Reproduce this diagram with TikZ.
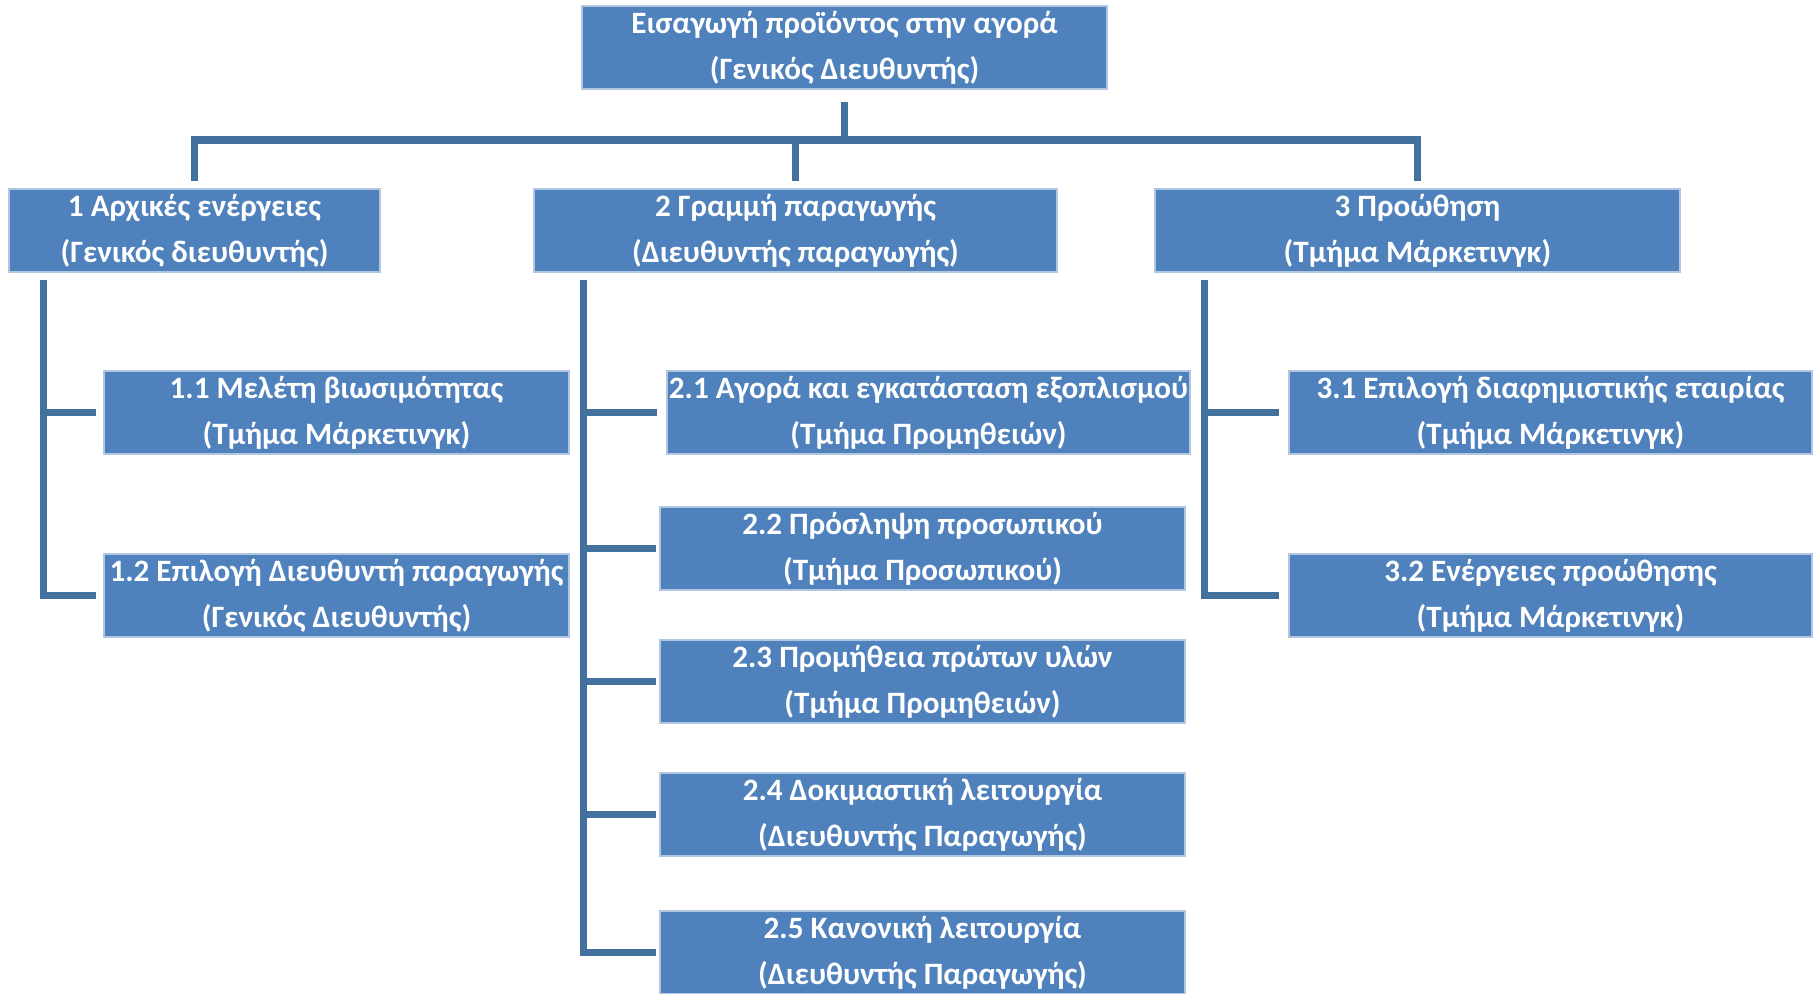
\documentclass[tikz,border=0pt]{standalone}
\usepackage{fontspec}
\setmainfont{Carlito}
\usetikzlibrary{positioning}
\definecolor{boxblue}{HTML}{4F81BD}
\definecolor{lineblue}{HTML}{41719C}
\tikzset{
    task/.style={draw=boxblue!45!white, line width=0.5pt, fill=boxblue,
        text=white, align=center, inner sep=0pt, minimum height=0.83cm,
        font=\bfseries\fontsize{8.85}{13}\selectfont},
    link/.style={draw=lineblue, line width=2pt},
}
\begin{document}
\begin{tikzpicture}
            \useasboundingbox (0,0) rectangle (18.17,-9.93);

            % Top task
            \node[task, minimum width=5.25cm] (top) at (8.445,-0.475)
                {Εισαγωγή προϊόντος στην αγορά\\(Γενικός Διευθυντής)};

            % Main phases
            \node[task, minimum width=3.71cm] (b1) at (1.945,-2.305)
                {1 Αρχικές ενέργειες\\(Γενικός διευθυντής)};
            \node[task, minimum width=5.23cm] (b2) at (7.955,-2.305)
                {2 Γραμμή παραγωγής\\(Διευθυντής παραγωγής)};
            \node[task, minimum width=5.25cm] (b3) at (14.175,-2.305)
                {3 Προώθηση\\(Τμήμα Μάρκετινγκ)};

            % Phase 1 tasks
            \node[task, minimum width=4.65cm] (c11) at (3.365,-4.125)
                {1.1 Μελέτη βιωσιμότητας\\(Τμήμα Μάρκετινγκ)};
            \node[task, minimum width=4.65cm] (c12) at (3.365,-5.955)
                {1.2 Επιλογή Διευθυντή παραγωγής\\(Γενικός Διευθυντής)};

            % Phase 2 tasks
            \node[task, minimum width=5.23cm] (c21) at (9.285,-4.125)
                {2.1 Αγορά και εγκατάσταση εξοπλισμού\\(Τμήμα Προμηθειών)};
            \node[task, minimum width=5.25cm] (c22) at (9.225,-5.485)
                {2.2 Πρόσληψη προσωπικού\\(Τμήμα Προσωπικού)};
            \node[task, minimum width=5.25cm] (c23) at (9.225,-6.815)
                {2.3 Προμήθεια πρώτων υλών\\(Τμήμα Προμηθειών)};
            \node[task, minimum width=5.25cm] (c24) at (9.225,-8.145)
                {2.4 Δοκιμαστική λειτουργία\\(Διευθυντής Παραγωγής)};
            \node[task, minimum width=5.25cm] (c25) at (9.225,-9.525)
                {2.5 Κανονική λειτουργία\\(Διευθυντής Παραγωγής)};

            % Phase 3 tasks
            \node[task, minimum width=5.23cm] (c31) at (15.505,-4.125)
                {3.1 Επιλογή διαφημιστικής εταιρίας\\(Τμήμα Μάρκετινγκ)};
            \node[task, minimum width=5.23cm] (c32) at (15.505,-5.955)
                {3.2 Ενέργειες προώθησης\\(Τμήμα Μάρκετινγκ)};

            % Top bar
            \coordinate (bar) at (0,-1.40);
            \draw[link] ([yshift=-0.12cm]top.south) -- (top.south |- bar);
            \draw[link] ([yshift=0.07cm]b1.north) -- (b1.north |- bar)
                -- (b3.north |- bar) -- ([yshift=0.07cm]b3.north);
            \draw[link] (b2.north |- bar) -- ([yshift=0.07cm]b2.north);

            % Rail 1
            \coordinate (r1) at ([xshift=0.35cm,yshift=-0.07cm]b1.south west);
            \draw[link] (r1) |- ([xshift=-0.07cm]c12.west);
            \draw[link] (r1 |- c11.west) -- ([xshift=-0.07cm]c11.west);

            % Rail 2
            \coordinate (r2) at ([xshift=0.5cm,yshift=-0.07cm]b2.south west);
            \draw[link] (r2) |- ([xshift=-0.03cm]c25.west);
            \draw[link] (r2 |- c21.west) -- ([xshift=-0.09cm]c21.west);
            \foreach \n in {c22,c23,c24}
                \draw[link] (r2 |- \n.west) -- ([xshift=-0.03cm]\n.west);

            % Rail 3
            \coordinate (r3) at ([xshift=0.5cm,yshift=-0.07cm]b3.south west);
            \draw[link] (r3) |- ([xshift=-0.09cm]c32.west);
            \draw[link] (r3 |- c31.west) -- ([xshift=-0.09cm]c31.west);
\end{tikzpicture}
\end{document}
